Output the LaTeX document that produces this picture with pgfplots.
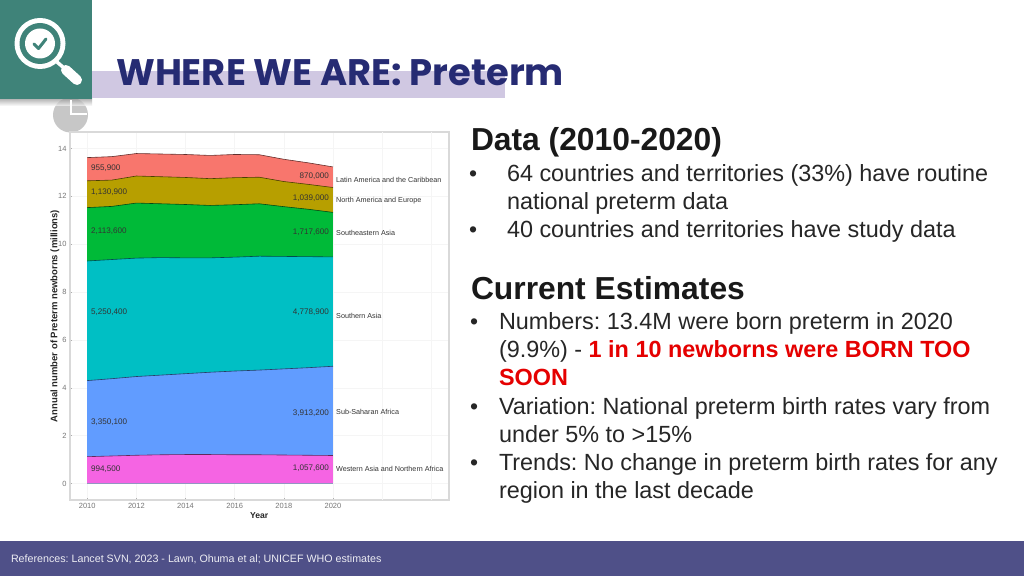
\documentclass[border=0pt]{standalone}
\usepackage{fontspec}
\setmainfont{Liberation Sans}
\newfontfamily\pop{Poppins}[BoldFont={Poppins Bold}]
\usepackage{pgfplots}
\pgfplotsset{compat=1.18}
\definecolor{sq}{HTML}{3F8379}
\definecolor{band}{HTML}{D0C8E2}
\definecolor{foot}{HTML}{4F5088}
\definecolor{ttl}{HTML}{262B73}
\definecolor{cR}{HTML}{F8766D}
\definecolor{cO}{HTML}{B79F00}
\definecolor{cG}{HTML}{00BA38}
\definecolor{cT}{HTML}{00BFC4}
\definecolor{cB}{HTML}{619CFF}
\definecolor{cM}{HTML}{F564E3}
\definecolor{lab}{HTML}{333333}
\definecolor{tk}{HTML}{777777}
\pgfplotstableread{
year wasia ssa sasia seasia nam lac
2010 1.12 4.30 9.30 11.53 12.65 13.62
2011 1.15 4.38 9.36 11.58 12.68 13.66
2012 1.18 4.47 9.42 11.72 12.85 13.79
2013 1.20 4.53 9.44 11.69 12.82 13.77
2014 1.21 4.59 9.43 11.66 12.79 13.75
2015 1.21 4.65 9.43 11.62 12.74 13.71
2016 1.20 4.70 9.46 11.65 12.78 13.75
2017 1.20 4.74 9.50 11.69 12.80 13.74
2018 1.19 4.79 9.49 11.57 12.62 13.55
2019 1.18 4.84 9.48 11.46 12.50 13.40
2020 1.17 4.90 9.47 11.33 12.37 13.23
}\stack
\frenchspacing
\begin{document}
\begin{tikzpicture}
\path[use as bounding box,fill=white] (0pt,0pt) rectangle (1024pt,576pt);
\begin{scope}[x=1pt,y=-1pt,yshift=576pt]
\fill[band] (92,71) rectangle (505,98);
% pie icon
\fill[black!22] (70.5,115) circle[radius=17.5];
\shade[top color=black!40,bottom color=black!0,opacity=0.7] (0,99) rectangle (92,106);
\fill[white] (70,100) rectangle (71.5,115);
\fill[white] (70,113.5) rectangle (87,115);
\fill[sq] (0,0) rectangle (92,99);
\fill[white] (40,43.5) circle[radius=25.5];
\fill[sq] (40,43.5) circle[radius=20.5];
\fill[white] (40,43.5) circle[radius=15];
\draw[sq,line width=3,line cap=round,line join=round] (34,44) -- (38.5,48.5) -- (46,39);
\draw[white,line width=3.5] (57,62) -- (64,68);
\draw[white,line width=10,line cap=round] (66,70) -- (77,80);
\node[anchor=base west,inner sep=0pt,text=ttl] at (116,86) {\pop\bfseries\fontsize{36.9}{38}\selectfont WHERE WE ARE: Preterm};
\end{scope}
% chart
\begin{axis}[
  at={(70pt,76pt)},anchor=south west,
  width=379pt,height=368pt,scale only axis,
  xmin=2009.30,xmax=2024.72,ymin=-0.69,ymax=14.69,
  xtick={2010,2012,...,2020},ytick={0,2,...,14},
  extra x ticks={2022,2024},extra x tick labels={},
  extra x tick style={major tick length=0pt,grid=major},
  grid=major,grid style={black!4,line width=0.5pt},
  axis line style={black!15,line width=1.3pt},
  axis background/.style={fill=white},
  tick style={tk!60,line width=0.4pt},tick pos=left,major tick length=2pt,
  /pgf/number format/assume math mode=true,
  /pgf/number format/1000 sep={},
  ticklabel style={font=\fontsize{7.5}{9}\selectfont,text=tk},
  xlabel={Year},ylabel={Annual number of Preterm newborns (millions)},
  label style={text=black!85},
  xlabel style={font=\bfseries\fontsize{8.6}{10}\selectfont,at={(axis cs:2017,-0.69)},anchor=north,yshift=-9.5pt},
  ylabel style={font=\bfseries\fontsize{9.5}{11}\selectfont,at={(rel axis cs:0,0.5)},yshift=7pt},
]
\addplot[fill=cR,draw=none] table[x=year,y=lac]{\stack} \closedcycle;
\addplot[fill=cO,draw=none] table[x=year,y=nam]{\stack} \closedcycle;
\addplot[fill=cG,draw=none] table[x=year,y=seasia]{\stack} \closedcycle;
\addplot[fill=cT,draw=none] table[x=year,y=sasia]{\stack} \closedcycle;
\addplot[fill=cB,draw=none] table[x=year,y=ssa]{\stack} \closedcycle;
\addplot[fill=cM,draw=none] table[x=year,y=wasia]{\stack} \closedcycle;
\addplot[draw=black!60!cR,line width=0.6pt] table[x=year,y=lac]{\stack};
\addplot[draw=black!60!cO,line width=0.6pt] table[x=year,y=nam]{\stack};
\addplot[draw=black!60!cG,line width=0.6pt] table[x=year,y=seasia]{\stack};
\addplot[draw=black!60!cT,line width=0.6pt] table[x=year,y=sasia]{\stack};
\addplot[draw=black!60!cB,line width=0.6pt] table[x=year,y=ssa]{\stack};
\addplot[draw=black!60!cM,line width=0.6pt] table[x=year,y=wasia]{\stack};
\end{axis}
\begin{scope}[x=1pt,y=-1pt,yshift=576pt,
  t/.style={anchor=base west,inner sep=0pt,outer sep=0pt,text=black!85},
  v/.style={inner sep=0pt,font=\fontsize{8.1}{9}\selectfont,text=black!80},
  l/.style={inner sep=0pt,font=\fontsize{7.2}{9}\selectfont,text=lab}]
\foreach \y/\s in {168/955{,}900,192/1{,}130{,}900,231/2{,}113{,}600,312/5{,}250{,}400,422/3{,}350{,}100,469/994{,}500}
  \node[v,anchor=west] at (91,\y) {\s};
\foreach \y/\s in {176/870{,}000,198/1{,}039{,}000,232/1{,}717{,}600,312/4{,}778{,}900,413/3{,}913{,}200,468/1{,}057{,}600}
  \node[v,anchor=east] at (329,\y) {\s};
\foreach \y/\s in {179.5/Latin America and the Caribbean,200.5/North America and Europe,232.5/Southeastern Asia,316/Southern Asia,411.5/Sub-Saharan Africa,469/Western Asia and Northern Africa}
  \node[l,anchor=west] at (336,\y) {\s};
\node[t,text=black!90] at (471,151) {\bfseries\fontsize{31.8}{33}\selectfont Data (2010-2020)};
\foreach \y/\s in {181.7/64 countries and territories (33\%) have routine,209.7/national preterm data,237.7/40 countries and territories have study data}
  \node[t] at (507,\y) {\fontsize{23.4}{26}\selectfont \s};
\node[t] at (469,181.7) {\fontsize{23}{26}\selectfont •};
\node[t] at (469,237.7) {\fontsize{23}{26}\selectfont •};
\node[t,text=black!90] at (471,299.5) {\bfseries\fontsize{31.8}{33}\selectfont Current Estimates};
\foreach \y in {329,414,470} \node[t] at (470,\y) {\fontsize{23}{26}\selectfont •};
\node[t] at (499,329) {\fontsize{23.4}{26}\selectfont Numbers: 13.4M were born preterm in 2020};
\node[t] at (499,357) {\fontsize{23.4}{26}\selectfont (9.9\%) - \textcolor{red!90!black}{\bfseries 1 in 10 newborns were BORN TOO}};
\node[t] at (499,385) {\fontsize{23.4}{26}\selectfont\textcolor{red!90!black}{\bfseries SOON}};
\node[t] at (499,414) {\fontsize{23.4}{26}\selectfont Variation: National preterm birth rates vary from};
\node[t] at (499,442) {\fontsize{23.4}{26}\selectfont under 5\% to >15\%};
\node[t] at (499,470) {\fontsize{23.4}{26}\selectfont Trends: No change in preterm birth rates for any};
\node[t] at (499,498) {\fontsize{23.4}{26}\selectfont region in the last decade};
\fill[foot] (0,541) rectangle (1024,576);
\node[t,text=white!90!foot] at (11,562) {\fontsize{10.7}{12}\selectfont References: Lancet SVN, 2023 - Lawn, Ohuma et al; UNICEF WHO estimates};
\end{scope}
\end{tikzpicture}
\end{document}
